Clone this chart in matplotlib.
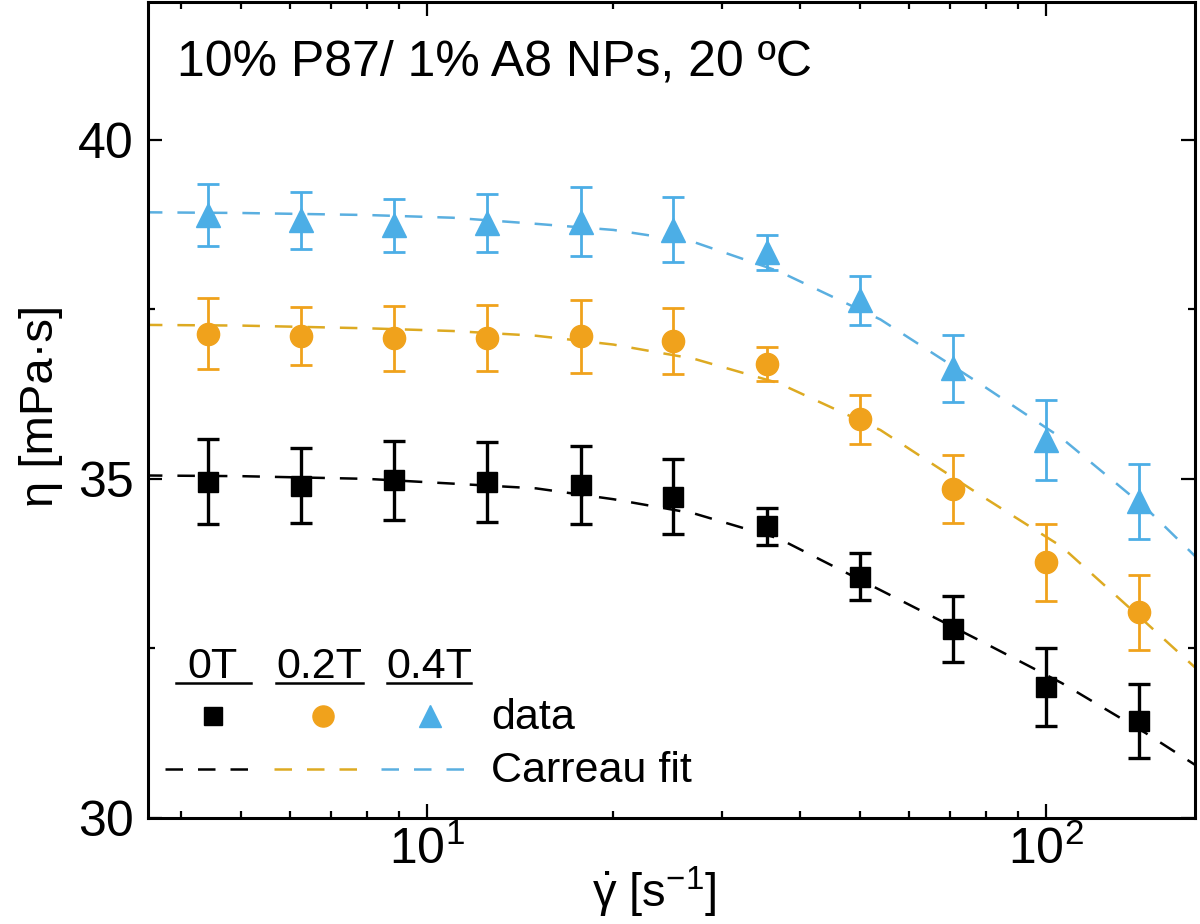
"""
plot.py
-------
Shear viscosity vs shear rate for 10% P87 / 1% A8 NPs at 20 C,
three magnetic fields, with Carreau fits.
"""

import numpy as np
import matplotlib
matplotlib.use("Agg")
import matplotlib.pyplot as plt
from matplotlib.ticker import MultipleLocator, LogLocator, NullFormatter

plt.rcParams["font.family"] = ["Liberation Sans", "DejaVu Sans"]
plt.rcParams["mathtext.fontset"] = "custom"
plt.rcParams["mathtext.rm"] = "Liberation Sans"
plt.rcParams["mathtext.it"] = "Liberation Sans:italic"
plt.rcParams["mathtext.bf"] = "Liberation Sans:bold"

# ── data ─────────────────────────────────────────────────────────────────────

shear_rate = [4.42, 6.25, 8.84, 12.5, 17.7, 25.0, 35.4, 50.0, 70.7, 100.0, 141.4]

eta_0T   = [34.96, 34.90, 34.98, 34.95, 34.91, 34.74, 34.30, 33.56, 32.79, 31.93, 31.43]
err_0T   = [0.63, 0.55, 0.58, 0.59, 0.58, 0.55, 0.27, 0.35, 0.49, 0.58, 0.54]

eta_02T  = [37.14, 37.11, 37.07, 37.08, 37.10, 37.03, 36.69, 35.88, 34.85, 33.77, 33.03]
err_02T  = [0.52, 0.43, 0.48, 0.49, 0.54, 0.49, 0.25, 0.36, 0.50, 0.57, 0.55]

eta_04T  = [38.89, 38.81, 38.74, 38.77, 38.79, 38.67, 38.34, 37.63, 36.63, 35.57, 34.67]
err_04T  = [0.46, 0.42, 0.39, 0.43, 0.51, 0.48, 0.26, 0.36, 0.49, 0.59, 0.55]

# Carreau fit curves, sampled from the figure
fit_rate = [3.5, 5, 8, 11, 15, 20, 27, 37, 54, 78, 106, 145, 175]
fit_0T   = [35.05, 35.04, 35.00, 34.93, 34.86, 34.70, 34.49, 34.12, 33.36, 32.62, 31.99, 31.25, 30.77]
fit_02T  = [37.27, 37.26, 37.22, 37.18, 37.11, 36.98, 36.77, 36.41, 35.72, 34.77, 34.00, 32.88, 32.20]
fit_04T  = [38.93, 38.92, 38.89, 38.85, 38.76, 38.67, 38.49, 38.06, 37.35, 36.41, 35.60, 34.57, 33.84]

FIELDS = ["0T", "0.2T", "0.4T"]

# ── styles ───────────────────────────────────────────────────────────────────

MARKER_COLORS = ["#000000", "#F0A21C", "#4CAEE6"]
LINE_COLORS   = ["#000000", "#DDAA22", "#5AAFE0"]
MARKERS       = ["s", "o", "^"]
MSIZES        = [14, 16, 17]
ELW           = [2.4, 2.0, 2.0]

fig = plt.figure(figsize=(12, 9.24), dpi=100)
ax = fig.add_axes([0.1233, 0.1147, 0.8725, 0.8831])

series = [(eta_0T, err_0T, fit_0T), (eta_02T, err_02T, fit_02T), (eta_04T, err_04T, fit_04T)]

for i, (eta, err, fit) in enumerate(series):
    ax.plot(fit_rate, fit, linestyle=(0, (7, 6)), color=LINE_COLORS[i], lw=1.8, zorder=2)
    ax.errorbar(shear_rate, eta, yerr=err, fmt=MARKERS[i], color=MARKER_COLORS[i],
                ms=MSIZES[i], mec=MARKER_COLORS[i], elinewidth=ELW[i], capsize=8,
                capthick=ELW[i], zorder=3)

ax.set_xscale("log")
ax.set_xlim(3.54, 174)
ax.set_ylim(30, 42.03)

ax.yaxis.set_major_locator(MultipleLocator(5))
ax.yaxis.set_minor_locator(MultipleLocator(2.5))
ax.xaxis.set_major_locator(LogLocator(base=10, numticks=10))
ax.xaxis.set_minor_locator(LogLocator(base=10, subs=np.arange(2, 10), numticks=20))
ax.xaxis.set_minor_formatter(NullFormatter())

ax.tick_params(which="both", direction="in", top=True, right=True, width=1.6)
ax.tick_params(which="major", length=10, labelsize=36)
ax.tick_params(which="minor", length=5)
ax.tick_params(axis="y", which="major", pad=10)
ax.tick_params(axis="x", which="major", pad=6)
for sp in ax.spines.values():
    sp.set_linewidth(2.2)

ax.set_ylabel("η [mPa·s]", fontsize=34)
ax.yaxis.set_label_coords(-0.081, 0.505)
ax.set_xlabel(r"$\dot{\mathrm{\gamma}}$ [s$^{\mathrm{-1}}$]", fontsize=34)
ax.xaxis.set_label_coords(0.484, -0.057)

ax.text(0.028, 0.926, "10% P87/ 1% A8 NPs, 20 ºC", transform=ax.transAxes,
        fontsize=36, va="center", ha="left")

# ── hand-built legend ────────────────────────────────────────────────────────

head_x  = [0.062, 0.164, 0.269]
line_x0 = [0.027, 0.122, 0.228]
line_x1 = [0.098, 0.205, 0.309]
dash_x0 = [0.016, 0.120, 0.223]
dash_x1 = [0.098, 0.204, 0.307]
mark_x  = [0.062, 0.167, 0.269]

for i in range(3):
    ax.text(head_x[i], 0.185, FIELDS[i], transform=ax.transAxes,
            fontsize=31, ha="center", va="center")
    ax.plot([line_x0[i], line_x1[i]], [0.165, 0.165], transform=ax.transAxes,
            color="black", lw=1.8, clip_on=False)
    ax.plot([mark_x[i]], [0.125], transform=ax.transAxes, marker=MARKERS[i],
            color=MARKER_COLORS[i], ms=MSIZES[i] * 0.95, ls="none")
    ax.plot([dash_x0[i], dash_x1[i]], [0.060, 0.060], transform=ax.transAxes,
            color=LINE_COLORS[i], lw=1.8, linestyle=(0, (7, 6)))

ax.text(0.328, 0.122, "data", transform=ax.transAxes, fontsize=31, va="center")
ax.text(0.328, 0.058, "Carreau fit", transform=ax.transAxes, fontsize=31, va="center")

plt.savefig("out.png", dpi=100)
